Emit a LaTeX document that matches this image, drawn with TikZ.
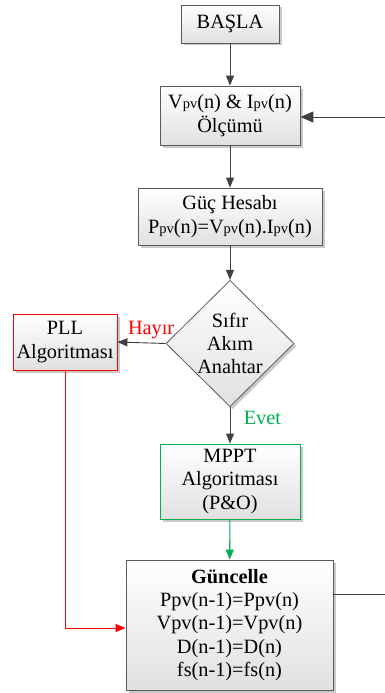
\documentclass[tikz,border=0pt]{standalone}
\usepackage{fontspec}
\setmainfont{Liberation Serif}
\usetikzlibrary{arrows.meta,shapes.geometric,shadows,calc}
\definecolor{linegray}{HTML}{404040}
\definecolor{boxgray}{HTML}{5A5A5A}
\definecolor{okgreen}{HTML}{00B050}
\definecolor{nored}{HTML}{FF0000}
\newcommand{\pvsub}{{\fontsize{14.5}{14.5}\selectfont pv}}
\tikzset{
  base/.style={draw=boxgray, line width=0.8pt, align=center,
    top color=white, bottom color=black!12, inner sep=2pt,
    font=\fontsize{20.3}{23.3}\selectfont,
    drop shadow={shadow xshift=2.5pt, shadow yshift=-2.5pt, opacity=0.35, fill=black!60}},
  procbox/.style={base, rectangle},
  decbox/.style={base, diamond, inner sep=0pt},
  flow/.style={draw=linegray, line width=0.9pt, -{Triangle[length=10pt,width=8pt]}},
  plain/.style={draw=linegray, line width=0.9pt},
  tag/.style={font=\fontsize{20.3}{23}\selectfont},
}
\begin{document}
\begin{tikzpicture}[x=1pt,y=-1pt]
\useasboundingbox (0,0) rectangle (385,693);

\node[procbox, minimum width=98, minimum height=38] (start) at (230,24) {BAŞLA};
\node[procbox, minimum width=140, minimum height=59] (meas) at (230,115.5)
  {V\pvsub(n) \& I\pvsub(n)\\Ölçümü};
\node[procbox, minimum width=184, minimum height=57] (calc) at (230,216.5)
  {Güç Hesabı\\P\pvsub(n)=V\pvsub(n).I\pvsub(n)};
\node[decbox, minimum width=128, minimum height=123] (dec) at (230,343.5)
  {Sıfır\\Akım\\Anahtar};
\node[procbox, draw=nored, minimum width=104, minimum height=56] (pll) at (65,342)
  {PLL\\Algoritması};
\node[procbox, draw=okgreen, minimum width=140, minimum height=75] (mppt) at (230,481.5)
  {MPPT\\Algoritması\\(P\&O)};
\node[procbox, minimum width=207, minimum height=130] (upd) at (229.5,625)
  {\textbf{Güncelle}\\Ppv(n-1)=Ppv(n)\\Vpv(n-1)=Vpv(n)\\D(n-1)=D(n)\\fs(n-1)=fs(n)};

% main flow
\draw[flow] (start) -- (meas);
\draw[flow] (meas) -- (calc);
\draw[flow] (calc) -- (dec);
\draw[flow] (dec.west) -- (pll.east)
  node[pos=0.3, above=0pt, text=nored, tag] (no) {Hayır};
\draw[flow] (dec.south) -- (mppt.north)
  node[pos=0.3, right=10pt, text=okgreen, tag] (yes) {Evet};
\draw[flow, draw=okgreen, line width=1.1pt, -{Triangle[length=10pt,width=8pt,fill=okgreen]}] (mppt) -- (upd);

% PLL result joins the update step
\draw[flow, draw=nored, line width=1pt] (pll.south) |- ($(upd.west)+(0,3)$);

% loop back to the next measurement
\coordinate (rb) at (385,594);
\coordinate (rt) at (385,117);
\draw[plain] (upd.east |- rb) -- (rb);
\draw[flow, -{Triangle[length=13pt,width=11pt]}] (rt) -- (meas.east |- rt);
\end{tikzpicture}
\end{document}
